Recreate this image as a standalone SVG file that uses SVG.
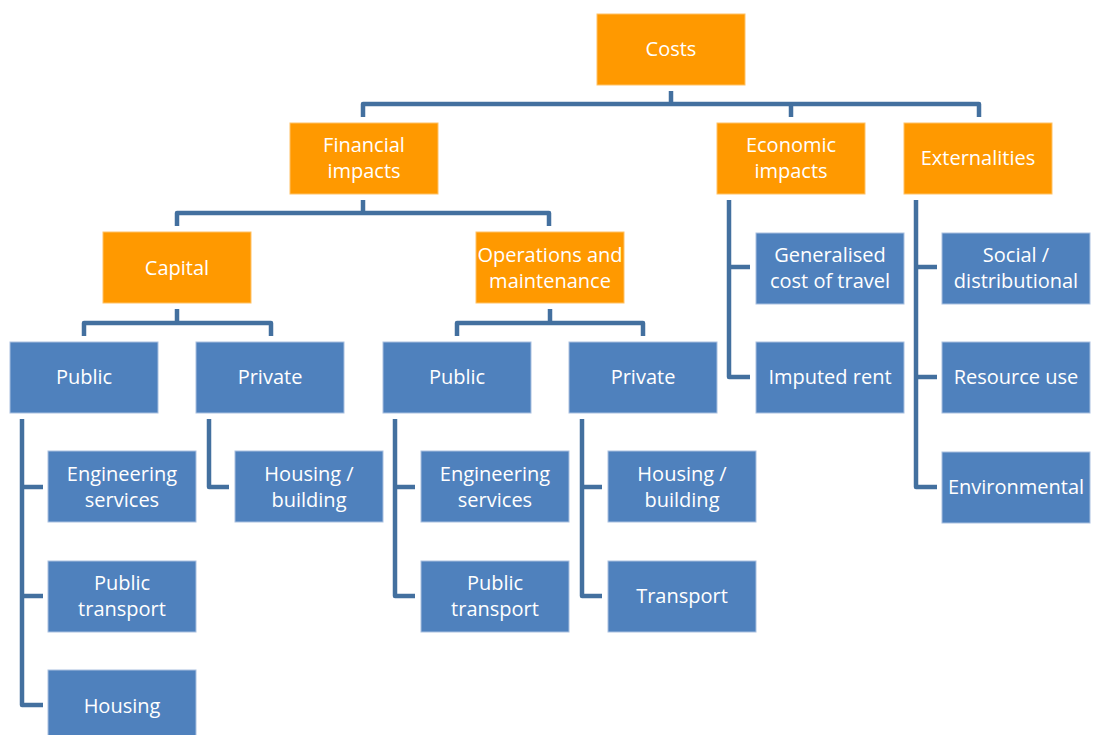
<svg xmlns="http://www.w3.org/2000/svg" width="1093" height="735" viewBox="0 0 1093 735">
<style>
.o{fill:#FF9900;stroke:#FFC266;stroke-width:1}
.b{fill:#4F81BD;stroke:#A9C0E0;stroke-width:1}
text{font-family:"Open Sans","Noto Sans","Liberation Sans",sans-serif;font-size:20px;fill:#FFFFFF;text-anchor:middle}
.c{fill:none;stroke:#43709F;stroke-width:4.5;stroke-linejoin:round;stroke-linecap:butt}
</style>
<rect width="1093" height="735" fill="#FFFFFF"/>
<g id="connectors" class="c">
<path d="M671 91V104M363 117V104H979V117M791 104V117"/>
<path d="M363 200V213M177 226V213H549V226"/>
<path d="M177 309V323M84 336V323H271V336"/>
<path d="M550 309V323M457 336V323H643V336"/>
<path d="M22 419V705H43M22 487H43M22 596H43"/>
<path d="M209 419V487H229"/>
<path d="M395 419V596H415M395 487H415"/>
<path d="M582 419V596H602M582 487H602"/>
<path d="M729 200V377H750M729 267H750"/>
<path d="M916 200V487H937M916 267H937M916 377H937"/>
</g>
<g id="n-costs"><rect class="o" x="597" y="14" width="148" height="71"/><text x="671" y="56">Costs</text></g>
<g id="n-financial"><rect class="o" x="290" y="123" width="148" height="71"/><text x="364" y="152">Financial</text><text x="364" y="178">impacts</text></g>
<g id="n-economic"><rect class="o" x="717" y="123" width="148" height="71"/><text x="791" y="152">Economic</text><text x="791" y="178">impacts</text></g>
<g id="n-externalities"><rect class="o" x="904" y="123" width="148" height="71"/><text x="978" y="165">Externalities</text></g>
<g id="n-capital"><rect class="o" x="103" y="232" width="148" height="71"/><text x="177" y="275">Capital</text></g>
<g id="n-om"><rect class="o" x="476" y="232" width="148" height="71"/><text x="550" y="262">Operations and</text><text x="550" y="288">maintenance</text></g>
<g id="n-cap-public"><rect class="b" x="10" y="342" width="148" height="71"/><text x="84" y="384">Public</text></g>
<g id="n-cap-private"><rect class="b" x="196" y="342" width="148" height="71"/><text x="270" y="384">Private</text></g>
<g id="n-om-public"><rect class="b" x="383" y="342" width="148" height="71"/><text x="457" y="384">Public</text></g>
<g id="n-om-private"><rect class="b" x="569" y="342" width="148" height="71"/><text x="643" y="384">Private</text></g>
<g id="n-gen-cost"><rect class="b" x="756" y="233" width="148" height="71"/><text x="830" y="262">Generalised</text><text x="830" y="288">cost of travel</text></g>
<g id="n-imputed"><rect class="b" x="756" y="342" width="148" height="71"/><text x="830" y="384">Imputed rent</text></g>
<g id="n-social"><rect class="b" x="942" y="233" width="148" height="71"/><text x="1016" y="262">Social /</text><text x="1016" y="288">distributional</text></g>
<g id="n-resource"><rect class="b" x="942" y="342" width="148" height="71"/><text x="1016" y="384">Resource use</text></g>
<g id="n-environmental"><rect class="b" x="942" y="452" width="148" height="71"/><text x="1016" y="494">Environmental</text></g>
<g id="n-cap-eng"><rect class="b" x="48" y="451" width="148" height="71"/><text x="122" y="481">Engineering</text><text x="122" y="507">services</text></g>
<g id="n-cap-pt"><rect class="b" x="48" y="561" width="148" height="71"/><text x="122" y="590">Public</text><text x="122" y="616">transport</text></g>
<g id="n-cap-housing"><rect class="b" x="48" y="670" width="148" height="71"/><text x="122" y="713">Housing</text></g>
<g id="n-cap-hb"><rect class="b" x="235" y="451" width="148" height="71"/><text x="309" y="481">Housing /</text><text x="309" y="507">building</text></g>
<g id="n-om-eng"><rect class="b" x="421" y="451" width="148" height="71"/><text x="495" y="481">Engineering</text><text x="495" y="507">services</text></g>
<g id="n-om-pt"><rect class="b" x="421" y="561" width="148" height="71"/><text x="495" y="590">Public</text><text x="495" y="616">transport</text></g>
<g id="n-om-hb"><rect class="b" x="608" y="451" width="148" height="71"/><text x="682" y="481">Housing /</text><text x="682" y="507">building</text></g>
<g id="n-om-transport"><rect class="b" x="608" y="561" width="148" height="71"/><text x="682" y="603">Transport</text></g>
</svg>
